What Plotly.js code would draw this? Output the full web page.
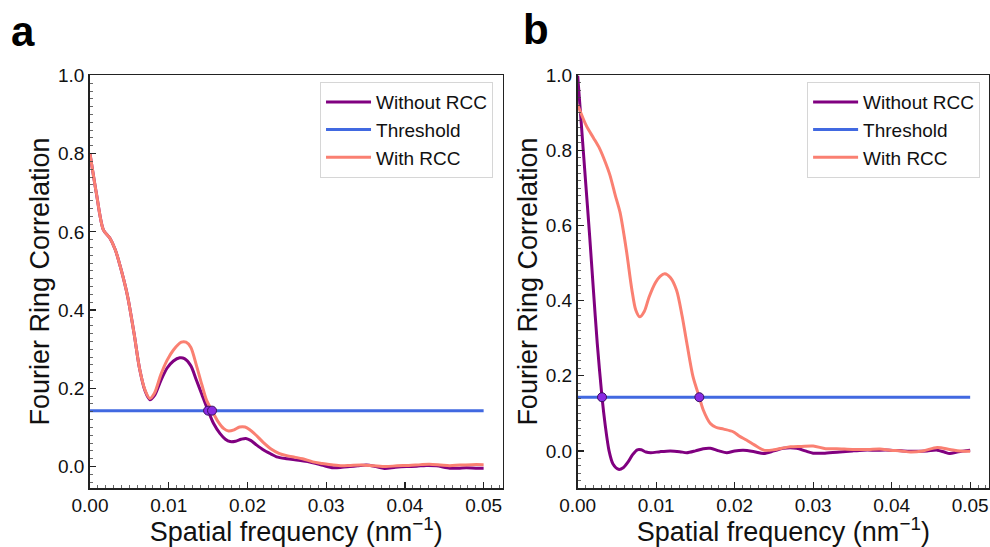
<!DOCTYPE html>
<html>
<head>
<meta charset="utf-8">
<script src="https://cdn.plot.ly/plotly-3.0.1.min.js"></script>
<style>html,body{margin:0;padding:0;background:#fff;}#chart{width:990px;height:547px;}</style>
</head>
<body>
<div id="chart"></div>
<script>
// ---------- Data ----------
const seriesNames = ["Without RCC", "Threshold", "With RCC"];

// Panel a
const aWithoutX = [0, 0.0008, 0.0017, 0.0025, 0.0032, 0.0040, 0.0048, 0.0056, 0.0063, 0.0070, 0.0076, 0.0082, 0.0090, 0.0098, 0.0106, 0.0114, 0.0120, 0.0128, 0.0135, 0.0142, 0.0150, 0.0157, 0.0165, 0.0172, 0.0178, 0.0185, 0.0192, 0.0198, 0.0204, 0.0211, 0.0220, 0.0230, 0.0237, 0.0250, 0.0265, 0.0283, 0.0296, 0.0309, 0.0320, 0.0330, 0.0340, 0.0351, 0.0363, 0.0374, 0.0388, 0.0402, 0.0415, 0.0427, 0.0440, 0.0457, 0.0468, 0.0478, 0.0490, 0.0500];
const aWithoutY = [0.80, 0.70, 0.605, 0.585, 0.555, 0.50, 0.433, 0.34, 0.25, 0.193, 0.171, 0.182, 0.22, 0.252, 0.27, 0.278, 0.276, 0.258, 0.222, 0.185, 0.143, 0.11, 0.085, 0.07, 0.064, 0.065, 0.07, 0.072, 0.067, 0.056, 0.043, 0.032, 0.025, 0.02, 0.016, 0.01, 0.003, -0.003, -0.002, 0.0, 0.002, 0.004, 0.0, -0.005, -0.002, 0.0, 0.001, 0.003, 0.002, -0.004, -0.004, -0.003, -0.004, -0.004];
const aWithX = [0, 0.0008, 0.0017, 0.0025, 0.0032, 0.0040, 0.0048, 0.0056, 0.0063, 0.0070, 0.0076, 0.0082, 0.0090, 0.0098, 0.0106, 0.0116, 0.0122, 0.0128, 0.0135, 0.0142, 0.0148, 0.0155, 0.0162, 0.0170, 0.0176, 0.0183, 0.0190, 0.0197, 0.0203, 0.0210, 0.0220, 0.0230, 0.0240, 0.0250, 0.0260, 0.0270, 0.0283, 0.0295, 0.0309, 0.0320, 0.0331, 0.0345, 0.0360, 0.0376, 0.0390, 0.0405, 0.0420, 0.0431, 0.0445, 0.0457, 0.0470, 0.0485, 0.0500];
const aWithY = [0.80, 0.70, 0.605, 0.585, 0.555, 0.50, 0.433, 0.34, 0.25, 0.195, 0.174, 0.188, 0.235, 0.272, 0.298, 0.318, 0.318, 0.305, 0.26, 0.21, 0.17, 0.143, 0.117, 0.097, 0.091, 0.094, 0.101, 0.101, 0.094, 0.082, 0.062, 0.045, 0.034, 0.028, 0.024, 0.02, 0.012, 0.008, 0.004, 0.002, 0.003, 0.004, 0.002, 0.0, 0.002, 0.003, 0.005, 0.006, 0.004, 0.002, 0.004, 0.005, 0.005];
const aCrossX = [0.0150, 0.0155];
const aCrossY = [0.143, 0.143];

// Panel b
const bWithoutX = [0, 0.0005, 0.0010, 0.0015, 0.0020, 0.0025, 0.0031, 0.0035, 0.0040, 0.0045, 0.0052, 0.0058, 0.0064, 0.0070, 0.0076, 0.0081, 0.0087, 0.0093, 0.0105, 0.0118, 0.0130, 0.0139, 0.0150, 0.0160, 0.0169, 0.0180, 0.0190, 0.0200, 0.0211, 0.0225, 0.0237, 0.0250, 0.0262, 0.0279, 0.0290, 0.0300, 0.0315, 0.0334, 0.0350, 0.0364, 0.0380, 0.0398, 0.0415, 0.0432, 0.0445, 0.0458, 0.0467, 0.0474, 0.0485, 0.0500];
const bWithoutY = [1.0, 0.86, 0.72, 0.58, 0.43, 0.285, 0.143, 0.07, 0.0, -0.035, -0.049, -0.045, -0.03, -0.01, 0.003, 0.003, -0.003, -0.005, -0.002, 0.0, -0.002, -0.005, 0.0, 0.006, 0.007, 0.0, -0.005, 0.0, 0.002, -0.002, -0.007, 0.0, 0.007, 0.007, 0.0, -0.006, -0.006, -0.003, 0.0, 0.002, 0.002, 0.002, 0.0, -0.001, 0.0, 0.002, -0.003, -0.007, -0.002, 0.002];
const bWithX = [0, 0.0011, 0.0020, 0.0028, 0.0035, 0.0041, 0.0048, 0.0054, 0.0062, 0.0069, 0.0074, 0.0079, 0.0085, 0.0091, 0.0099, 0.0105, 0.0111, 0.0118, 0.0126, 0.0133, 0.0139, 0.0147, 0.0155, 0.0160, 0.0169, 0.0176, 0.0186, 0.0198, 0.0207, 0.0215, 0.0225, 0.0237, 0.0250, 0.0260, 0.0271, 0.0285, 0.0300, 0.0316, 0.0330, 0.0350, 0.0370, 0.0385, 0.0398, 0.0412, 0.0424, 0.0440, 0.0458, 0.0474, 0.0487, 0.0500];
const bWithY = [0.922, 0.866, 0.834, 0.805, 0.77, 0.735, 0.68, 0.635, 0.535, 0.43, 0.375, 0.357, 0.372, 0.41, 0.448, 0.465, 0.472, 0.462, 0.428, 0.36, 0.288, 0.197, 0.143, 0.109, 0.073, 0.063, 0.058, 0.051, 0.038, 0.029, 0.016, 0.002, 0.003, 0.007, 0.011, 0.012, 0.013, 0.006, 0.006, 0.004, 0.004, 0.005, 0.002, 0.0, -0.003, 0.0, 0.009, 0.004, 0.0, -0.001];
const bCrossX = [0.0031, 0.0155];
const bCrossY = [0.143, 0.143];

// Threshold line
const thresholdX = [0, 0.05];
const thresholdY = [0.143, 0.143];

const xTickVals = [0, 0.01, 0.02, 0.03, 0.04, 0.05];
const yTickVals = [0.0, 0.2, 0.4, 0.6, 0.8, 1.0];

// ---------- Styling ----------
const FONT = "Liberation Sans, Arial, Helvetica, sans-serif";
const cPurple = "#800080", cBlue = "#4169E1", cSalmon = "#FA8072", cMarker = "#8A2BE2";

function lineTrace(x, y, name, color, xa, ya, lg, showlegend) {
  return {x: x, y: y, name: name, type: "scatter", mode: "lines",
    line: {color: color, width: 3, shape: "spline", smoothing: 0.8},
    xaxis: xa, yaxis: ya, legend: lg, showlegend: showlegend, hoverinfo: "skip"};
}
function markerTrace(x, y, xa, ya, lg) {
  return {x: x, y: y, type: "scatter", mode: "markers", showlegend: false,
    marker: {color: cMarker, size: 9, line: {color: "#3a1060", width: 1}},
    xaxis: xa, yaxis: ya, legend: lg, hoverinfo: "skip"};
}

const traces = [
  lineTrace(aWithoutX, aWithoutY, seriesNames[0], cPurple, "x", "y", "legend", true),
  lineTrace(thresholdX, thresholdY, seriesNames[1], cBlue, "x", "y", "legend", true),
  lineTrace(aWithX, aWithY, seriesNames[2], cSalmon, "x", "y", "legend", true),
  markerTrace(aCrossX, aCrossY, "x", "y", "legend"),
  lineTrace(bWithoutX, bWithoutY, seriesNames[0], cPurple, "x2", "y2", "legend2", true),
  lineTrace(thresholdX, thresholdY, seriesNames[1], cBlue, "x2", "y2", "legend2", true),
  lineTrace(bWithX, bWithY, seriesNames[2], cSalmon, "x2", "y2", "legend2", true),
  markerTrace(bCrossX, bCrossY, "x2", "y2", "legend2")
];

function xAxis(domain, anchor) {
  return {domain: domain, anchor: anchor, range: [0, 0.0524],
    tickvals: xTickVals, tickformat: ".2f", ticks: "inside", ticklen: 6, tickwidth: 1.2, tickcolor: "#222",
    minor: {dtick: 0.001, tick0: 0, ticks: "inside", ticklen: 3, tickwidth: 0.8, tickcolor: "#444", showgrid: false},
    showline: true, linecolor: "#222", linewidth: 1.8, mirror: true,
    showgrid: false, zeroline: false, automargin: false,
    tickfont: {family: FONT, size: 19, color: "#111"},
    title: {text: "Spatial frequency (nm<sup>−1</sup>)", font: {family: FONT, size: 27, color: "#111"}, standoff: 4}};
}
function yAxis(domain, anchor, range) {
  return {domain: domain, anchor: anchor, range: range,
    tickvals: yTickVals, tickformat: ".1f", ticks: "inside", ticklen: 6, tickwidth: 1.2, tickcolor: "#222",
    minor: {dtick: 0.02, tick0: 0, ticks: "inside", ticklen: 3, tickwidth: 0.8, tickcolor: "#444", showgrid: false},
    showline: true, linecolor: "#222", linewidth: 1.8, mirror: true,
    showgrid: false, zeroline: false, automargin: false,
    tickfont: {family: FONT, size: 19, color: "#111"},
    title: {text: "Fourier Ring Correlation", font: {family: FONT, size: 27, color: "#111"}, standoff: 0}};
}

const yDom = [0.1084, 0.8622];
function legendCfg(xRight) {
  return {x: xRight, xanchor: "right", y: 0.850, yanchor: "top",
    font: {family: FONT, size: 19, color: "#111"}, bgcolor: "#ffffff",
    bordercolor: "#d6d6d6", borderwidth: 1, itemwidth: 45, tracegroupgap: 0};
}

const layout = {
  width: 990, height: 547,
  margin: {l: 0, r: 0, t: 0, b: 0},
  paper_bgcolor: "#ffffff", plot_bgcolor: "#ffffff",
  font: {family: FONT, color: "#111"},
  xaxis: xAxis([0.0909, 0.5076], "y"),
  yaxis: yAxis(yDom, "x", [-0.054, 1.0]),
  xaxis2: xAxis([0.5835, 0.9990], "y2"),
  yaxis2: yAxis(yDom, "x2", [-0.098, 1.0]),
  legend: legendCfg(0.498),
  legend2: legendCfg(0.990),
  annotations: [
    {text: "a", xref: "paper", yref: "paper", x: 9 / 990, y: 1 - 57 / 547, xanchor: "left", yanchor: "bottom",
     showarrow: false, font: {family: FONT, size: 42, weight: "bold", color: "#000"}},
    {text: "b", xref: "paper", yref: "paper", x: 521 / 990, y: 1 - 55 / 547, xanchor: "left", yanchor: "bottom",
     showarrow: false, font: {family: FONT, size: 42, weight: "bold", color: "#000"}}
  ]
};

Plotly.newPlot("chart", traces, layout, {displayModeBar: false, staticPlot: true});
</script>
</body>
</html>
